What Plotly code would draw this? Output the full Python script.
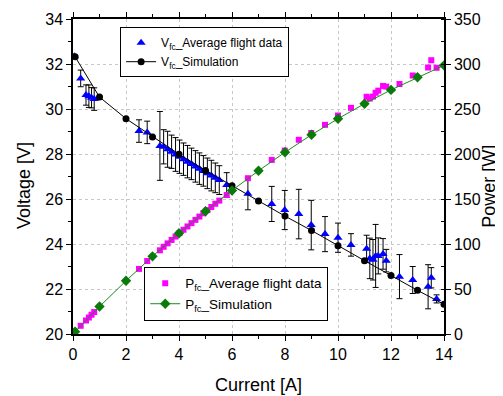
import plotly.graph_objects as go

# ---- data ----
sim_I = [0.08, 1, 2, 3, 4, 5, 6, 7, 8, 9, 10, 11, 12, 13, 14]
sim_V = [32.32, 30.53, 29.57, 28.76, 27.99, 27.27, 26.59, 25.91, 25.24, 24.6, 23.92, 23.26, 22.6, 21.94, 21.32]
sim_P = [2.6, 30.5, 59.1, 86.3, 112.0, 136.4, 159.5, 181.4, 201.9, 221.4, 239.2, 255.9, 271.2, 285.2, 298.5]

fl_I = [0.05, 0.29, 0.49, 0.6, 0.7, 0.8, 2.49, 2.8,
        3.28, 3.42, 3.57, 3.72, 3.87, 4.02, 4.17, 4.32, 4.47, 4.62, 4.77, 4.92, 5.07, 5.22, 5.37, 5.52,
        5.8, 6.6, 7.5, 7.99, 8.52, 8.99, 9.51, 10.0, 10.49,
        11.08, 11.2, 11.32, 11.42, 11.52, 11.7, 11.82, 12.32, 12.82, 13.4, 13.52, 13.72]
fl_V = [32.34, 31.36, 30.62, 30.57, 30.5, 30.44, 29.02, 28.96,
        28.36, 28.32, 28.21, 28.10, 27.98, 27.88, 27.77, 27.66, 27.56, 27.45, 27.35, 27.25, 27.14, 27.04, 26.94, 26.84,
        26.62, 26.23, 25.78, 25.51, 25.33, 24.84, 24.44, 24.28, 23.96,
        23.79, 23.36, 23.3, 23.47, 23.47, 23.56, 23.26, 22.55, 22.4, 22.1, 22.5, 21.56]
fl_Verr = [0.0, 0.37, 0.45, 0.5, 0.45, 0.5, 0.5, 0.5,
           1.53, 0.76, 0.8, 0.74, 0.75, 0.74, 0.72, 0.72, 0.7, 0.7, 0.7, 0.68, 0.68, 0.68, 0.66, 0.64,
           0.55, 0.71, 0.78, 0.87, 1.1, 1.1, 0.78, 0.65, 0.5,
           0.6, 0.9, 0.9, 1.4, 0.8, 0.68, 0.5, 0.98, 0.6, 0.98, 0.45, 0.18]
fl_P = [1.6, 9.1, 15.0, 18.3, 21.4, 24.4, 72.3, 81.1,
        93.0, 96.9, 100.7, 104.5, 108.3, 112.1, 115.8, 119.5, 123.2, 126.8, 130.5, 134.1, 137.6, 141.1, 144.7, 148.2,
        154.4, 173.1, 193.4, 203.8, 215.8, 223.3, 232.4, 242.8, 251.3,
        263.6, 261.6, 263.8, 268.0, 270.4, 275.6, 274.9, 277.8, 287.2, 296.1, 304.2, 295.8]

x_ticks = [0, 2, 4, 6, 8, 10, 12, 14]
v_ticks = [20, 22, 24, 26, 28, 30, 32, 34]
p_ticks = [0, 50, 100, 150, 200, 250, 300, 350]

FONT = "Liberation Sans, Arial, sans-serif"

fig = go.Figure()

fig.add_trace(go.Scatter(
    x=fl_I, y=fl_V, mode="markers", name="V<sub>fc</sub>_Average flight data",
    marker=dict(symbol="triangle-up", color="#0000ff", size=8),
    error_y=dict(type="data", array=fl_Verr, visible=True, color="black", thickness=1, width=3),
    legend="legend"))
fig.add_trace(go.Scatter(
    x=sim_I, y=sim_V, mode="lines+markers", name="V<sub>fc</sub>_Simulation",
    line=dict(color="black", width=1),
    marker=dict(symbol="circle", color="black", size=7),
    legend="legend"))
fig.add_trace(go.Scatter(
    x=fl_I, y=fl_P, mode="markers", name="P<sub>fc</sub>_Average flight data",
    marker=dict(symbol="square", color="#ff00ff", size=6),
    yaxis="y2", legend="legend2"))
fig.add_trace(go.Scatter(
    x=sim_I, y=sim_P, mode="lines+markers", name="P<sub>fc</sub>_Simulation",
    line=dict(color="#1a8c1a", width=1),
    marker=dict(symbol="diamond", color="#0a7a0a", size=8),
    yaxis="y2", legend="legend2"))

axis_common = dict(showline=True, linecolor="black", linewidth=1.5, automargin=False,
                   tickfont=dict(family=FONT, size=16, color="black"),
                   ticks="outside", ticklen=5, tickcolor="black", zeroline=False)

title_font = dict(family=FONT, size=18, color="black")

# page body has an 8px margin, so the figure is sized/placed to compensate
fig.update_layout(
    width=495, height=388,
    margin=dict(l=65, r=59, t=11, b=62),
    paper_bgcolor="white", plot_bgcolor="white",
    font=dict(family=FONT, color="black"),
    xaxis=dict(range=[0, 14], tickvals=x_ticks, mirror="ticks",
               showgrid=True, gridcolor="#c8c8c8", griddash="dot", gridwidth=1,
               minor=dict(dtick=1, ticks="outside", ticklen=3, tickcolor="black"),
               **axis_common),
    yaxis=dict(range=[20, 34], tickvals=v_ticks,
               showgrid=True, gridcolor="#c8c8c8", griddash="dot", gridwidth=1,
               minor=dict(dtick=1, ticks="outside", ticklen=3, tickcolor="black"),
               **axis_common),
    yaxis2=dict(range=[0, 350], tickvals=p_ticks, overlaying="y", side="right",
                showgrid=False,
                minor=dict(dtick=25, ticks="inside", ticklen=3, tickcolor="black"),
                **axis_common),
    legend=dict(x=0.127, y=0.974, xanchor="left", yanchor="top",
                bgcolor="white", bordercolor="black", borderwidth=1,
                font=dict(family=FONT, size=12, color="black"), tracegroupgap=0),
    legend2=dict(x=0.192, y=0.213, xanchor="left", yanchor="top",
                 bgcolor="white", bordercolor="black", borderwidth=1,
                 font=dict(family=FONT, size=13.5, color="black"), tracegroupgap=0),
    annotations=[
        dict(text="Current [A]", xref="paper", yref="paper", x=0.501, y=-0.162,
             showarrow=False, font=title_font, xanchor="center", yanchor="middle"),
        dict(text="Voltage [V]", xref="paper", yref="paper", x=-0.132, y=0.47,
             showarrow=False, font=title_font, textangle=-90, xanchor="center", yanchor="middle"),
        dict(text="Power [W]", xref="paper", yref="paper", x=1.121, y=0.47,
             showarrow=False, font=title_font, textangle=-90, xanchor="center", yanchor="middle"),
    ],
)

fig.write_html("out.html")
